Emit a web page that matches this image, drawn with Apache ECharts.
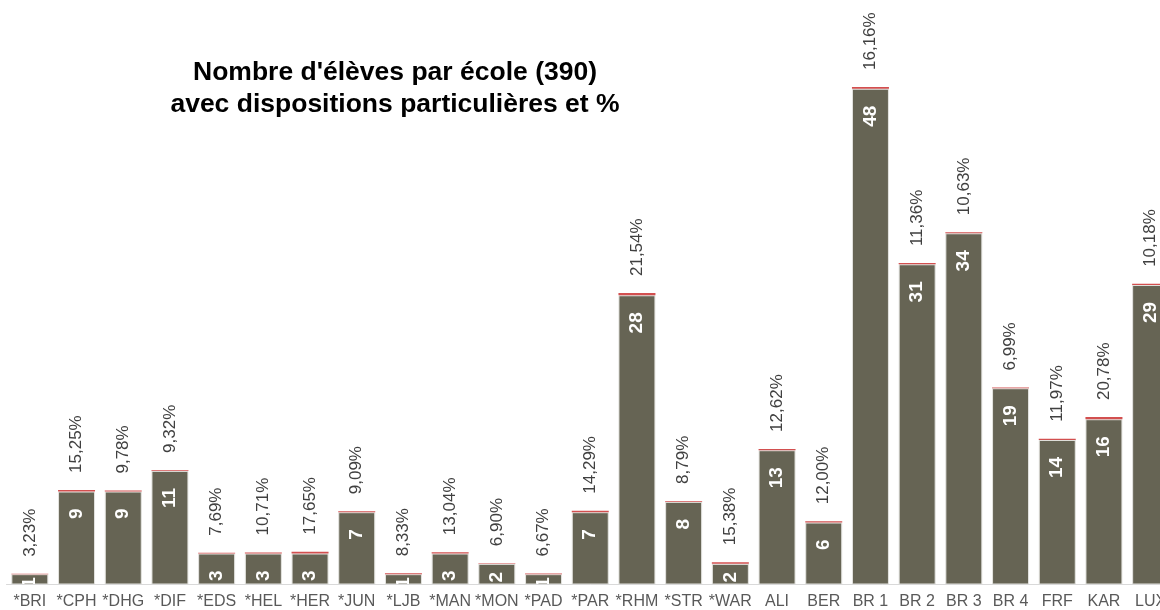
<!DOCTYPE html>
<html>
<head>
<meta charset="utf-8">
<script src="https://cdn.jsdelivr.net/npm/echarts@6/dist/echarts.min.js"></script>
<style>
  html, body { margin: 0; padding: 0; background: #ffffff; overflow: hidden; }
  /* the chart runs a little past the right edge of the page */
  #chart { width: 1181px; height: 610px; }
</style>
</head>
<body>
<div id="chart"></div>
<script>
// Schools (category axis)
const schools = ['*BRI', '*CPH', '*DHG', '*DIF', '*EDS', '*HEL', '*HER', '*JUN', '*LJB', '*MAN',
  '*MON', '*PAD', '*PAR', '*RHM', '*STR', '*WAR', 'ALI', 'BER', 'BR 1', 'BR 2', 'BR 3', 'BR 4',
  'FRF', 'KAR', 'LUX'];

// Number of pupils with special arrangements, per school
const pupils = [1, 9, 9, 11, 3, 3, 3, 7, 1, 3, 2, 1, 7, 28, 8, 2, 13, 6, 48, 31, 34, 19, 14, 16, 29];

// Share of the school's pupils, in percent
const shares = [3.23, 15.25, 9.78, 9.32, 7.69, 10.71, 17.65, 9.09, 8.33, 13.04, 6.90, 6.67, 14.29,
  21.54, 8.79, 15.38, 12.62, 12.00, 16.16, 11.36, 10.63, 6.99, 11.97, 20.78, 10.18];

const titleText = "Nombre d'élèves par école (390)\navec dispositions particulières et %";

const FONT = '"Liberation Sans", Arial, sans-serif';

// The share is stacked on top of the count as a thin cap (percent / 100 in count units)
const shareCaps = shares.map(s => s / 100);

function fmtPct(v) {
  return v.toFixed(2).replace('.', ',') + '%';
}

// Count label offset from the top of the bar; short bars keep the label lower in the bar
function countDistance(v) {
  if (v <= 1) return 3;
  if (v === 2) return 8;
  return 17;
}

const chart = echarts.init(document.getElementById('chart'), null, { renderer: 'canvas' });

chart.setOption({
  animation: false,
  backgroundColor: '#ffffff',
  title: {
    text: titleText,
    left: 390,
    top: 52,
    textAlign: 'center',
    textStyle: {
      fontFamily: FONT,
      fontSize: 26.5,
      fontWeight: 'bold',
      color: '#000000',
      lineHeight: 32
    }
  },
  grid: {
    left: 6.5,
    top: 6,
    width: 1167.5,
    height: 578.5,
    containLabel: false
  },
  xAxis: {
    type: 'category',
    data: schools,
    z: 100,
    axisTick: { show: false },
    axisLine: { lineStyle: { color: '#d9d9d9', width: 1 } },
    axisLabel: {
      interval: 0,
      margin: 9,
      color: '#595959',
      fontFamily: FONT,
      fontSize: 16
    }
  },
  yAxis: {
    type: 'value',
    min: 0,
    max: 56,
    show: false,
    splitLine: { show: false }
  },
  graphic: [{
    // white band under the baseline so bar labels stop at the axis
    type: 'rect',
    z: 50,
    silent: true,
    shape: { x: 0, y: 585.5, width: 1181, height: 30 },
    style: { fill: '#ffffff' }
  }],
  series: [
    {
      name: 'Élèves',
      type: 'bar',
      stack: 'ecole',
      barWidth: 37,
      z: 2,
      data: pupils.map(v => ({
        value: v,
        label: { distance: countDistance(v) }
      })),
      itemStyle: {
        color: '#666454',
        borderColor: '#e4e4e0',
        borderWidth: 1
      },
      label: {
        show: true,
        position: 'insideTop',
        rotate: 90,
        align: 'right',
        verticalAlign: 'middle',
        color: '#ffffff',
        fontFamily: FONT,
        fontWeight: 'bold',
        fontSize: 19,
        formatter: p => String(p.value)
      }
    },
    {
      name: '%',
      type: 'bar',
      stack: 'ecole',
      barWidth: 37,
      z: 3,
      data: shareCaps,
      itemStyle: { color: '#d24f4f' },
      label: {
        show: true,
        position: 'top',
        distance: 17,
        rotate: 90,
        align: 'left',
        verticalAlign: 'middle',
        color: '#404040',
        fontFamily: FONT,
        fontSize: 17,
        formatter: p => fmtPct(shares[p.dataIndex])
      }
    }
  ]
});
</script>
</body>
</html>
